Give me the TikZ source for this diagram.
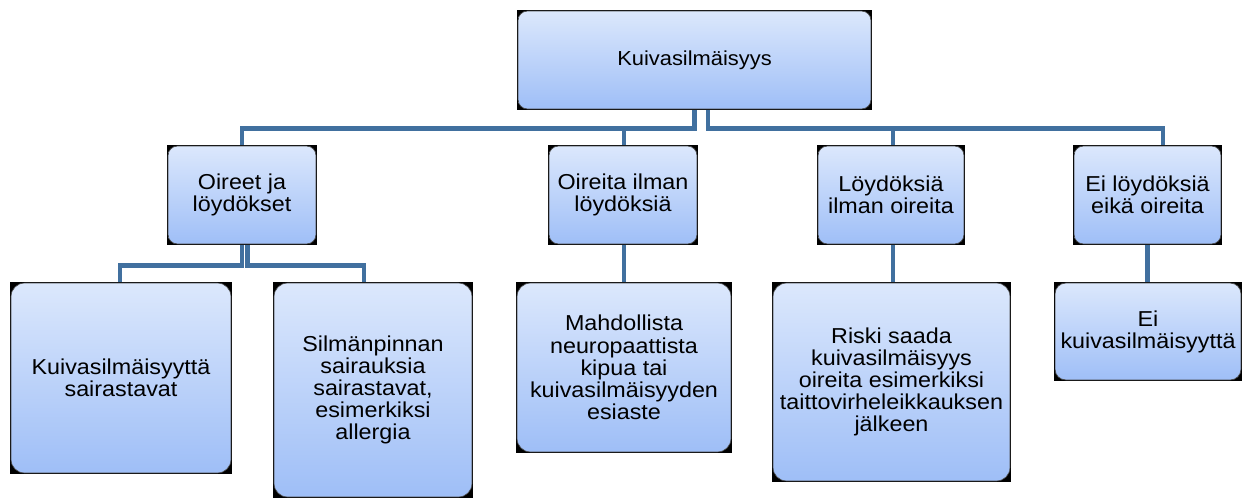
\documentclass[tikz,border=0pt]{standalone}
\usepackage{fontspec}
\setmainfont{Liberation Sans}[FakeStretch=1.08]
\usepackage{tikz}

\definecolor{boxtop}{HTML}{DCE8FC}
\definecolor{boxbot}{HTML}{9EBEF7}
\definecolor{boxedge}{HTML}{4A4A4A}
\definecolor{linkblue}{HTML}{41709F}

\tikzset{
  orgbox/.style={rectangle, fill=black, inner sep=0pt, align=center,
    font=\fontsize{16.2}{16.6}\selectfont,
    path picture={\shade[top color=boxtop, bottom color=boxbot, draw=boxedge,
      line width=0.5pt, rounded corners=#1]
      ([shift={(0.8pt,-0.8pt)}]path picture bounding box.north west) rectangle
      ([shift={(-0.8pt,0.8pt)}]path picture bounding box.south east);}},
  orgbox/.default=7pt,
  link/.style={draw=linkblue, line width=3.6pt}
}

\begin{document}
\begin{tikzpicture}[x=0.75pt, y=-0.75pt]
\useasboundingbox (0,0) rectangle (1248,500);

% top level
\node[orgbox, font=\fontsize{15.2}{16.6}\selectfont, minimum width=355*0.75pt, minimum height=100*0.75pt] (kuivas) at (694.5,60) {Kuivasilmäisyys};

% second level
\node[orgbox, minimum width=150*0.75pt, minimum height=100*0.75pt] (oireet) at (242,195) {Oireet ja\\löydökset};
\node[orgbox, minimum width=150*0.75pt, minimum height=100*0.75pt] (oirilm) at (623,195) {Oireita ilman\\löydöksiä};
\node[orgbox, minimum width=148*0.75pt, minimum height=100*0.75pt] (loyilm) at (891,195) {Löydöksiä\\ilman oireita};
\node[orgbox, minimum width=149*0.75pt, minimum height=100*0.75pt] (eiloyd) at (1147.5,195) {Ei löydöksiä\\eikä oireita};

% third level
\node[orgbox=10pt, minimum width=222*0.75pt, minimum height=192*0.75pt] (sairas) at (121,378) {Kuivasilmäisyyttä\\sairastavat};
\node[orgbox=10pt, minimum width=200*0.75pt, minimum height=216*0.75pt] (silman) at (373,390) {Silmänpinnan\\sairauksia\\sairastavat,\\esimerkiksi\\allergia};
\node[orgbox=10pt, minimum width=216*0.75pt, minimum height=171*0.75pt] (neuro) at (624,367.5) {Mahdollista\\neuropaattista\\kipua tai\\kuivasilmäisyyden\\esiaste};
\node[orgbox=10pt, minimum width=239*0.75pt, minimum height=200*0.75pt] (riski) at (891.5,382) {Riski saada\\kuivasilmäisyys\\oireita esimerkiksi\\taittovirheleikkauksen\\jälkeen};
\node[orgbox=8pt, minimum width=188*0.75pt, minimum height=99*0.75pt] (eikuiv) at (1148,331.5) {Ei\\kuivasilmäisyyttä};

% connectors
\draw[link] (kuivas.south) -- ++(0,18.5) -| (oireet.north);
\draw[link] (kuivas.south) -- ++(0,18.5) -| ([shift={(1,0)}]oirilm.north);
\draw[link] ([shift={(13.5,0)}]kuivas.south) -- ++(0,18.5) -| ([shift={(2,0)}]loyilm.north);
\draw[link] ([shift={(13.5,0)}]kuivas.south) -- ++(0,18.5) -| ([shift={(15.5,0)}]eiloyd.north);

\draw[link] (oireet.south) -- ++(0,20) -| ([shift={(-1,0)}]sairas.north);
\draw[link] ([shift={(5.5,0)}]oireet.south) -- ++(0,20) -| ([shift={(-9,0)}]silman.north);
\draw[link] ([shift={(1,0)}]oirilm.south) -- (neuro.north);
\draw[link] ([shift={(2,0)}]loyilm.south) -- ([shift={(1.5,0)}]riski.north);
\draw[link] (eiloyd.south) -- (eiloyd.south |- eikuiv.north);
\end{tikzpicture}
\end{document}
